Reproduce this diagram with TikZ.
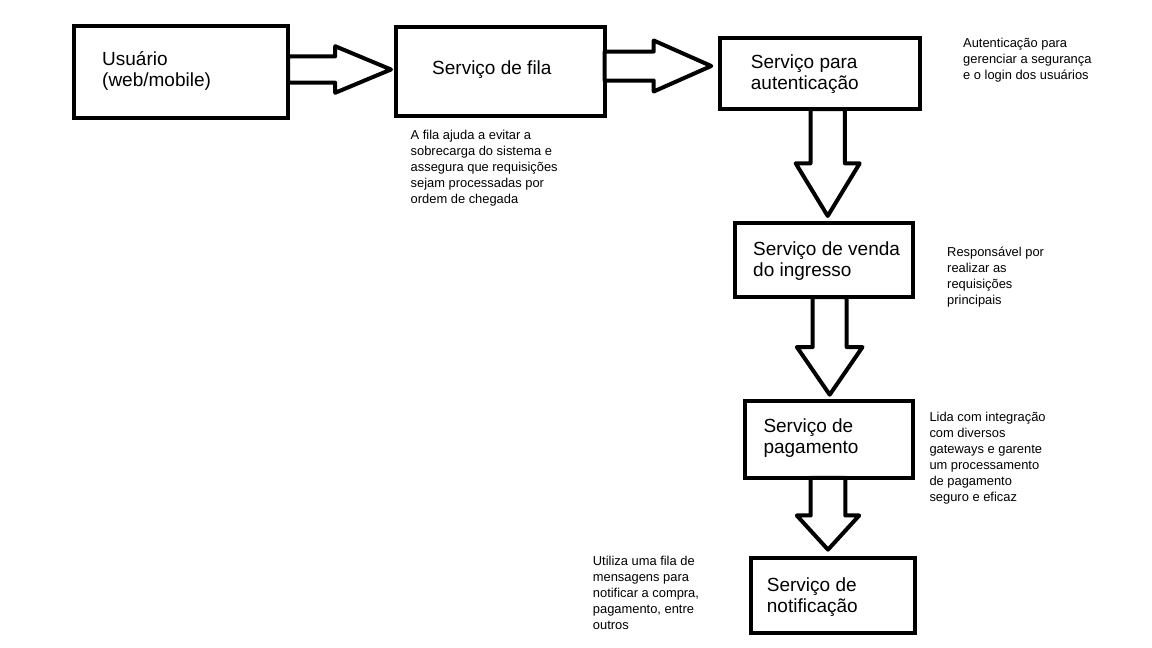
\documentclass[tikz,border=0pt]{standalone}
\usepackage{fontspec}
\setmainfont{Liberation Sans}
\usetikzlibrary{shapes.arrows}
\tikzset{
  box/.style={draw=black, line width=4pt, inner sep=0pt, outer sep=0pt, fill=white},
  boxtext/.style={anchor=base west, inner sep=0pt, align=left, text=black,
    font={\fontsize{19}{21.2}\selectfont}},
  notetext/.style={anchor=base west, inner sep=0pt, align=left, text=black,
    font={\fontsize{12.9}{16}\selectfont}},
  blockarrow/.style={single arrow, draw=black, line width=4pt, fill=white,
    outer sep=0pt, anchor=tail, line join=round,
    single arrow head indent=0pt},
  downarrow/.style={blockarrow, shape border rotate=270},
}
\begin{document}
\begin{tikzpicture}[x=1pt, y=-1pt]
\useasboundingbox (0,0) rectangle (1152,648);
\fill[white] (0,0) rectangle (1152,648);

% boxes
\node[box, minimum width=214pt, minimum height=92pt] (b1) at (181,72) {};
\node[box, minimum width=208.7pt, minimum height=89.3pt] (b2) at (500.3,71.7) {};
\node[box, minimum width=199.7pt, minimum height=71pt] (b3) at (819.8,73.5) {};
\node[box, minimum width=178pt, minimum height=74pt] (b4) at (824,260) {};
\node[box, minimum width=167.5pt, minimum height=76.5pt] (b5) at (829.2,439.7) {};
\node[box, minimum width=164pt, minimum height=75pt] (b6) at (832.5,595.5) {};

% block arrows
\node[blockarrow, inner sep=11.2pt, minimum height=103pt, minimum width=42.6pt,
  single arrow head extend=10.1pt, single arrow tip angle=45.3] (a1) at (b1.east |- 0,69.5) {};
\node[blockarrow, inner sep=12.5pt, minimum height=106.6pt, minimum width=47pt,
  single arrow head extend=11pt, single arrow tip angle=47.8] (a2) at (b2.east |- 0,66) {};
\node[downarrow, inner sep=15.2pt, minimum height=107pt, minimum width=60pt,
  single arrow head extend=14.8pt, single arrow tip angle=62.6] (a3) at (827.7,0 |- b3.south) {};
\node[downarrow, inner sep=15pt, minimum height=97.7pt, minimum width=61.6pt,
  single arrow head extend=15.8pt, single arrow tip angle=69.1] (a4) at (829.7,0 |- b4.south) {};
\node[downarrow, inner sep=15.3pt, minimum height=71.7pt, minimum width=58.4pt,
  single arrow head extend=13.9pt, single arrow tip angle=84.8] (a5) at (828,0 |- b5.south) {};

% box texts (anchor = baseline of the last line)
\node[boxtext] (t1) at (102,86.2) {Usuário\\(web/mobile)};
\node[boxtext] (t2) at (432,74.3) {Serviço de fila};
\node[boxtext] (t3) at (750.7,89.5) {Serviço para\\autenticação};
\node[boxtext] (t4) at (753,276.2) {Serviço de venda\\do ingresso};
\node[boxtext] (t5) at (763.3,453.9) {Serviço de\\pagamento};
\node[boxtext] (t6) at (766.7,612.9) {Serviço de\\notificação};

% notes (anchor = baseline of the last line)
\node[notetext] (n1) at (410.5,203.3) {A fila ajuda a evitar a\\sobrecarga do sistema e\\assegura que requisições\\sejam processadas por\\ordem de chegada};
\node[notetext] (n2) at (963,79.7) {Autenticação para\\gerenciar a segurança\\e o login dos usuários};
\node[notetext] (n3) at (947,304.7) {Responsável por\\realizar as\\requisições\\principais};
\node[notetext] (n4) at (929.3,501) {Lida com integração\\com diversos\\gateways e garente\\um processamento\\de pagamento\\seguro e eficaz};
\node[notetext] (n5) at (592.7,629) {Utiliza uma fila de\\mensagens para\\notificar a compra,\\pagamento, entre\\outros};
\end{tikzpicture}
\end{document}
